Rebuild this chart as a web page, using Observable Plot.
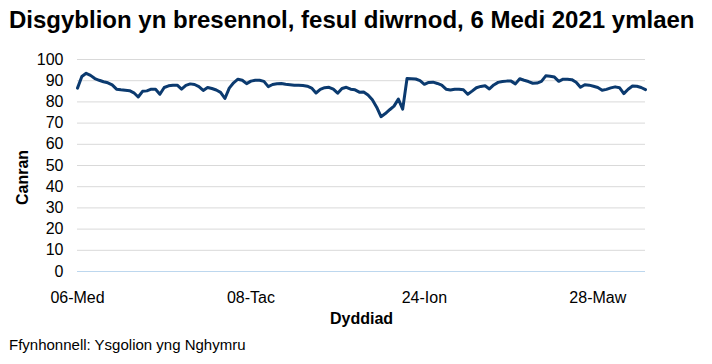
<!DOCTYPE html>
<html>
<head>
<meta charset="utf-8">
<script src="https://cdn.jsdelivr.net/npm/d3@7"></script>
<script src="https://cdn.jsdelivr.net/npm/@observablehq/plot@0.6"></script>
<style>
  html, body { margin: 0; padding: 0; background: #fff; }
  body { width: 712px; height: 364px; overflow: hidden; font-family: "Liberation Sans", Arial, sans-serif; }
  #title { font-weight: bold; font-size: 24px; line-height: 28px; padding: 6px 0 0 9px; box-sizing: border-box; height: 40px; white-space: nowrap; }
  #caption { font-size: 15px; line-height: 18px; padding-left: 9px; }
  svg { display: block; }
</style>
</head>
<body>
<div id="title">Disgyblion yn bresennol, fesul diwrnod, 6 Medi 2021 ymlaen</div>
<div id="chart"></div>
<div id="caption">Ffynhonnell: Ysgolion yng Nghymru</div>
<script>
// Percentage of pupils present, one value per school day (index 0 = 06-Med)
const attendance = [
  86.5, 92.0, 93.5, 92.5, 91.0, 90.2, 89.5, 89.0, 88.0, 86.0,
  85.7, 85.5, 85.3, 84.3, 82.3, 85.0, 85.2, 86.0, 86.0, 83.6,
  86.8, 87.6, 87.9, 87.9, 86.0, 87.8, 88.5, 88.2, 87.2, 85.4,
  86.8, 86.3, 85.6, 84.5, 81.6, 86.5, 89.0, 90.7, 90.2, 88.6,
  89.8, 90.2, 90.2, 89.7, 87.2, 88.2, 88.6, 88.7, 88.3, 88.1,
  87.9, 87.9, 87.7, 87.4, 86.5, 84.2, 85.9, 86.7, 86.9, 86.0,
  84.1, 86.3, 86.9, 86.0, 85.7, 84.6, 84.7, 83.3, 81.0, 77.5,
  73.0, 74.5, 76.3, 78.0, 81.3, 76.6, 91.0, 90.9, 90.8, 90.0,
  88.3, 89.2, 89.3, 88.7, 87.9, 86.0, 85.6, 86.0, 86.0, 85.7,
  83.6, 85.1, 86.7, 87.3, 87.6, 86.1, 88.0, 89.2, 89.6, 89.8,
  89.8, 88.5, 90.9, 90.2, 89.6, 88.8, 88.9, 89.7, 92.3, 92.1,
  91.7, 89.7, 90.7, 90.7, 90.5, 89.3, 86.9, 88.1, 87.9, 87.4,
  86.8, 85.5, 85.9, 86.6, 87.1, 86.7, 83.9, 86.0, 87.5, 87.4,
  86.8, 85.8
];
const dayIndex = attendance.map((d, i) => i);
const xTickPositions = [0, 40, 80, 120];
const xTickLabels = ["06-Med", "08-Tac", "24-Ion", "28-Maw"];
const yTicks = [0, 10, 20, 30, 40, 50, 60, 70, 80, 90, 100];
const table = attendance.map((v, i) => ({day: dayIndex[i], value: v}));

const chart = Plot.plot({
  width: 712,
  height: 296,
  marginTop: 19,
  marginBottom: 65,
  marginLeft: 77,
  marginRight: 67,
  style: {fontFamily: '"Liberation Sans", Arial, sans-serif', fontSize: "16px", color: "#000", background: "#fff"},
  x: {domain: [0, attendance.length - 1]},
  y: {domain: [0, 100]},
  marks: [
    Plot.gridY(yTicks.filter(d => d > 0), {stroke: "#d9d9d9", strokeOpacity: 1, strokeWidth: 1}),
    Plot.ruleY([0], {stroke: "#bdd7ee", strokeWidth: 1.2}),
    Plot.axisY(yTicks, {tickSize: 0, tickPadding: 14, label: null, fontSize: 16}),
    Plot.axisX(xTickPositions, {tickSize: 0, tickPadding: 20, label: null, fontSize: 16,
      tickFormat: d => xTickLabels[xTickPositions.indexOf(d)]}),
    Plot.line(table, {x: "day", y: "value", stroke: "#0b3a6f", strokeWidth: 3, strokeLinejoin: "round", curve: "linear"}),
    Plot.text(["Canran"], {frameAnchor: "left", textAnchor: "middle", lineAnchor: "middle", dx: -55, dy: 12, rotate: -90, fontWeight: "bold", fontSize: 16}),
    Plot.text(["Dyddiad"], {frameAnchor: "bottom", lineAnchor: "middle", dy: 47, fontWeight: "bold", fontSize: 16})
  ]
});
document.getElementById("chart").appendChild(chart);
</script>
</body>
</html>
